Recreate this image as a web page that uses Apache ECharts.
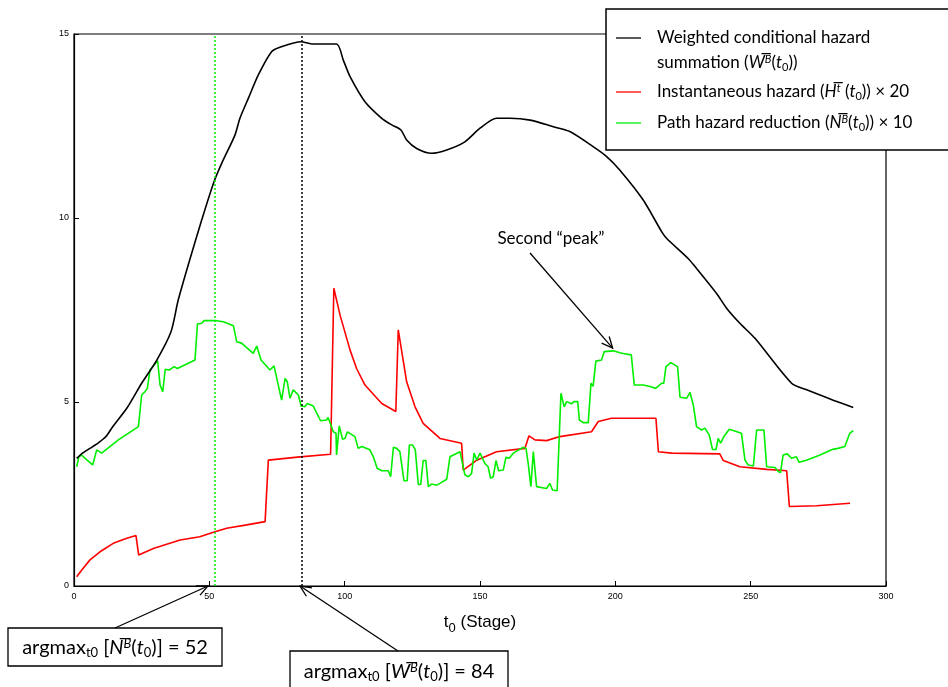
<!DOCTYPE html>
<html><head><meta charset="utf-8">
<script src="https://cdn.jsdelivr.net/npm/echarts@6/dist/echarts.min.js"></script>
<style>html,body{margin:0;padding:0;background:#fff}#c{width:948px;height:687px}</style>
</head><body><div id="c"></div>
<script>
// Weighted conditional hazard summation W^B(t0)  [stage, value]
const wData = [[1.0,3.47],[2.8,3.59],[5.9,3.74],[9.0,3.89],[11.8,4.06],[14.5,4.35],[19.5,4.83],[25.0,5.51],[30.6,6.14],[35.8,6.90],[38.5,7.77],[42.5,8.8],[47.2,9.95],[51.5,10.94],[54.6,11.49],[59.5,12.26],[61.3,12.71],[64.4,13.25],[68.1,13.89],[73.0,14.52],[76.1,14.64],[83.9,14.79],[87.8,14.73],[97.0,14.73],[99.5,14.29],[102.0,13.84],[107.5,13.16],[113.7,12.71],[117.4,12.53],[120.8,12.39],[122.9,12.12],[126.6,11.89],[132.1,11.76],[137.7,11.85],[144.4,12.07],[150.0,12.44],[156.1,12.71],[161.1,12.71],[168.5,12.66],[177.1,12.48],[183.2,12.35],[191.8,11.94],[196.8,11.67],[201.7,11.30],[210.3,10.49],[217.1,9.63],[218.9,9.45],[226.9,8.90],[230.0,8.63],[237.4,7.95],[241.1,7.55],[246.0,7.14],[251.6,6.73],[265.1,5.51],[270.7,5.33],[280.5,5.05],[287.9,4.85]];
// Instantaneous hazard H^t(t0) x 20
const hData = [[1.0,0.25],[2.8,0.43],[5.9,0.71],[9.6,0.93],[14.5,1.16],[19.5,1.30],[22.9,1.37],[23.9,0.84],[29.3,1.02],[39.2,1.25],[46.5,1.34],[51.5,1.46],[56.4,1.57],[63.8,1.66],[70.6,1.75],[71.8,3.42],[83.5,3.51],[94.8,3.58],[96.0,8.09],[98.3,7.36],[102.0,6.41],[104.4,5.91],[107.5,5.46],[113.7,4.96],[118.9,4.74],[119.8,6.96],[122.9,5.55],[126.0,4.87],[129.0,4.42],[135.2,4.01],[143.2,3.88],[143.8,3.15],[148.8,3.42],[156.1,3.65],[166.6,3.74],[168.1,4.08],[170.3,3.97],[174.6,3.95],[179.5,4.06],[191.2,4.19],[193.7,4.47],[198.6,4.56],[215.0,4.56],[215.9,3.65],[220.8,3.61],[238.6,3.59],[239.9,3.41],[246.0,3.24],[255.9,3.17],[263.3,3.13],[264.3,2.16],[274.4,2.18],[286.7,2.25]];
// Path hazard reduction N^B(t0) x 10
const nData = [[1.0,3.24],[1.8,3.51],[2.8,3.56],[4.1,3.47],[4.7,3.51],[6.9,3.29],[8.4,3.70],[9.0,3.74],[10.2,3.61],[16.4,3.97],[23.8,4.33],[25.0,5.19],[26.2,5.28],[27.1,5.37],[28.1,5.87],[30.9,6.12],[31.8,5.46],[32.8,5.28],[33.7,5.89],[35.2,5.87],[37.0,5.96],[38.2,5.91],[44.7,6.14],[45.6,7.12],[47.2,7.14],[48.0,7.21],[52.7,7.21],[55.2,7.18],[58.9,7.07],[60.1,6.64],[61.9,6.60],[66.2,6.32],[67.5,6.52],[69.1,6.14],[72.4,5.87],[73.9,5.98],[76.7,5.05],[78.0,5.64],[78.8,5.55],[79.8,5.10],[81.0,5.33],[82.9,5.19],[83.9,4.89],[85.3,4.87],[86.2,4.96],[88.4,4.89],[91.1,4.49],[93.3,4.51],[93.9,4.58],[95.8,4.19],[96.8,4.15],[97.0,3.56],[98.0,4.35],[99.2,3.99],[100.1,4.01],[101.0,4.19],[103.8,4.06],[105.0,3.74],[106.3,3.79],[109.3,3.70],[110.6,3.51],[112.0,3.20],[113.7,3.13],[116.1,3.13],[117.0,2.97],[118.0,3.77],[119.2,3.74],[120.4,3.65],[121.9,2.86],[123.1,2.86],[123.9,3.83],[125.1,3.83],[126.1,3.70],[127.2,2.76],[128.1,2.76],[129.0,3.41],[130.0,3.41],[130.9,2.70],[132.1,2.77],[134.0,2.74],[135.2,2.79],[137.7,2.90],[138.9,3.51],[142.6,3.65],[143.2,3.70],[144.4,3.02],[145.7,2.97],[146.9,3.06],[147.8,3.61],[148.8,3.42],[150.0,3.61],[151.8,3.33],[153.0,3.24],[153.9,2.93],[154.9,2.97],[155.9,3.41],[156.9,3.13],[158.6,3.15],[159.6,3.50],[160.8,3.47],[162.3,3.61],[166.0,3.77],[167.0,3.74],[167.8,3.33],[168.8,2.70],[169.7,3.65],[170.9,2.70],[174.6,2.65],[175.8,2.79],[176.8,2.61],[178.5,2.59],[179.9,5.24],[181.1,4.87],[182.0,5.01],[183.8,4.95],[184.7,5.01],[186.1,5.01],[186.7,4.51],[188.1,4.44],[190.0,4.44],[191.0,5.51],[191.8,5.43],[192.8,6.11],[194.9,6.14],[195.9,6.37],[199.2,6.39],[201.7,6.34],[202.9,6.32],[205.9,6.28],[207.0,5.46],[210.3,5.46],[212.8,5.42],[214.9,5.37],[217.1,5.51],[217.9,5.51],[218.7,5.96],[220.5,6.07],[223.0,5.96],[223.9,5.13],[226.3,5.10],[227.6,5.26],[228.8,4.92],[230.0,4.33],[231.9,4.24],[233.1,4.29],[234.7,4.10],[235.9,3.71],[237.2,3.71],[238.0,4.01],[238.9,3.88],[240.1,4.06],[242.1,4.26],[246.6,4.15],[247.9,3.42],[249.1,3.29],[251.0,3.26],[252.2,4.24],[254.9,4.24],[255.9,3.24],[259.0,3.22],[260.2,3.11],[261.0,3.08],[262.0,3.56],[263.5,3.59],[265.1,3.47],[266.9,3.51],[267.9,3.36],[270.6,3.42],[275.6,3.56],[279.9,3.70],[280.7,3.72],[282.3,3.74],[284.8,3.79],[286.6,4.15],[287.9,4.22]];

const xTicks = [0, 50, 100, 150, 200, 250, 300];
const yTicks = [0, 5, 10, 15];
const argmaxN = 52;
const argmaxW = 84;
const secondPeak = [199, 6.41];

const chart = echarts.init(document.getElementById('c'), null, {renderer: 'canvas'});
const tickFont = {fontSize: 9, color: '#000', fontFamily: 'Liberation Sans'};
chart.setOption({
  animation: false,
  backgroundColor: '#fff',
  grid: {left: 74, right: 62, top: 34, bottom: 101, show: true, borderColor: '#000', borderWidth: 1.2},
  xAxis: {
    type: 'value', min: xTicks[0], max: xTicks[xTicks.length - 1], interval: 50,
    axisLine: {show: true, onZero: false, lineStyle: {color: '#000', width: 1.2}},
    axisTick: {show: true, inside: true, length: 5, lineStyle: {color: '#000'}},
    axisLabel: Object.assign({margin: 6}, tickFont),
    splitLine: {show: false},
    name: '{a|t}{b|0}{a| (Stage)}', nameLocation: 'middle', nameGap: 24,
    nameTextStyle: {fontSize: 17, fontFamily: 'Liberation Sans', color: '#000',
      rich: {a: {fontSize: 17, fontFamily: 'Liberation Sans', color: '#000'},
             b: {fontSize: 13, fontFamily: 'Liberation Sans', color: '#000', padding: [12, 0, 0, 0]}}}
  },
  yAxis: {
    type: 'value', min: yTicks[0], max: yTicks[yTicks.length - 1], interval: 5,
    axisLine: {show: true, onZero: false, lineStyle: {color: '#000', width: 1.2}},
    axisTick: {show: true, inside: true, length: 5, lineStyle: {color: '#000'}},
    axisLabel: Object.assign({margin: 5}, tickFont),
    splitLine: {show: false}
  },
  series: [
    {name: 'W', type: 'line', data: wData, showSymbol: false, symbol: 'none', smooth: 0.25, lineStyle: {color: '#000', width: 1.6}, z: 3,
     markLine: {silent: true, symbol: 'none', label: {show: false}, lineStyle: {color: '#000', type: [2, 2], width: 1.5},
       data: [{xAxis: argmaxW}]}},
    {name: 'H', type: 'line', data: hData, showSymbol: false, symbol: 'none', lineStyle: {color: '#ff0000', width: 1.6}, z: 2},
    {name: 'N', type: 'line', data: nData, showSymbol: false, symbol: 'none', lineStyle: {color: '#00ee00', width: 1.6}, z: 2,
     markLine: {silent: true, symbol: 'none', label: {show: false}, lineStyle: {color: '#00ee00', type: [2, 2], width: 1.5},
       data: [{xAxis: argmaxN}]}}
  ]
});

function arrow(from, to, color) {
  const dx = to[0] - from[0], dy = to[1] - from[1];
  const L = Math.sqrt(dx * dx + dy * dy), ux = dx / L, uy = dy / L;
  const h = 11, w = 5;
  const bx = to[0] - ux * h, by = to[1] - uy * h;
  return [
    {type: 'line', shape: {x1: from[0], y1: from[1], x2: to[0], y2: to[1]}, style: {stroke: color, lineWidth: 1.3}, z: 100},
    {type: 'polyline', shape: {points: [[bx - uy * w, by + ux * w], to, [bx + uy * w, by - ux * w]]}, style: {stroke: color, lineWidth: 1.3, fill: null}, z: 100}
  ];
}

const pN = chart.convertToPixel({xAxisIndex: 0, yAxisIndex: 0}, [argmaxN - 2.5, 0]);
const pW = chart.convertToPixel({xAxisIndex: 0, yAxisIndex: 0}, [argmaxW - 0.5, 0]);
const pPeak = chart.convertToPixel({xAxisIndex: 0, yAxisIndex: 0}, secondPeak);

const lf = 'Lato';
const legendRich = {
  n: {fontSize: 17, fontFamily: lf, color: '#000'},
  i: {fontSize: 17, fontFamily: lf, fontStyle: 'italic', color: '#000'},
  s: {fontSize: 11, fontFamily: lf, fontStyle: 'italic', color: '#000', padding: [0, 0, 8, 0]},
  b: {fontSize: 11, fontFamily: lf, color: '#000', padding: [8, 0, 0, 0]}
};
const boxRich = {
  n: {fontSize: 20, fontFamily: lf, color: '#000'},
  i: {fontSize: 20, fontFamily: lf, fontStyle: 'italic', color: '#000'},
  s: {fontSize: 13, fontFamily: lf, fontStyle: 'italic', color: '#000', padding: [0, 0, 9, 0]},
  b: {fontSize: 13, fontFamily: lf, color: '#000', padding: [9, 0, 0, 0]}
};
function txt(x, y, text, rich, align) {
  return {type: 'text', x: x, y: y, z: 110,
    style: {text: text, rich: rich, align: align || 'left', verticalAlign: 'middle', fill: '#000', font: '17px Lato'}};
}

const g = [];
// legend
g.push({type: 'rect', shape: {x: 606, y: 9, width: 360, height: 141}, style: {fill: '#fff', stroke: '#000', lineWidth: 1.5}, z: 90});
g.push({type: 'line', shape: {x1: 616, y1: 38, x2: 641, y2: 38}, style: {stroke: '#000', lineWidth: 1.3}, z: 100});
g.push({type: 'line', shape: {x1: 616, y1: 92, x2: 641, y2: 92}, style: {stroke: '#ff0000', lineWidth: 1.3}, z: 100});
g.push({type: 'line', shape: {x1: 616, y1: 123, x2: 641, y2: 123}, style: {stroke: '#00ee00', lineWidth: 1.3}, z: 100});
g.push(txt(657, 38, '{n|Weighted conditional hazard}', legendRich));
g.push(txt(657, 63, '{n|summation (}{i|W\u0305}{s|B}{n|(}{i|t}{b|0}{n|))}', legendRich));
g.push(txt(657, 92, '{n|Instantaneous hazard (}{i|H\u0305}{s|t}{n| (}{i|t}{b|0}{n|)) × 20}', legendRich));
g.push(txt(657, 123, '{n|Path hazard reduction (}{i|N\u0305}{s|B}{n|(}{i|t}{b|0}{n|)) × 10}', legendRich));
// annotation boxes
g.push({type: 'rect', shape: {x: 8, y: 628, width: 214, height: 38}, style: {fill: '#fff', stroke: '#000', lineWidth: 1.3}, z: 90});
g.push(txt(115, 648, '{n|argmax}{b|t0}{n| [}{i|N\u0305}{s|B}{n|(}{i|t}{b|0}{n|)] = 52}', boxRich, 'center'));
g.push({type: 'rect', shape: {x: 290, y: 651, width: 218, height: 45}, style: {fill: '#fff', stroke: '#000', lineWidth: 1.3}, z: 90});
g.push(txt(399, 672, '{n|argmax}{b|t0}{n| [}{i|W\u0305}{s|B}{n|(}{i|t}{b|0}{n|)] = 84}', boxRich, 'center'));
arrow([115, 628], pN, '#000').forEach(e => g.push(e));
arrow([398, 651], pW, '#000').forEach(e => g.push(e));
// second peak annotation
g.push(txt(551, 239, '{n|Second “peak”}', legendRich, 'center'));
arrow([530, 253], [pPeak[0], pPeak[1] - 2], '#000').forEach(e => g.push(e));

chart.setOption({graphic: g});
</script>
</body></html>
